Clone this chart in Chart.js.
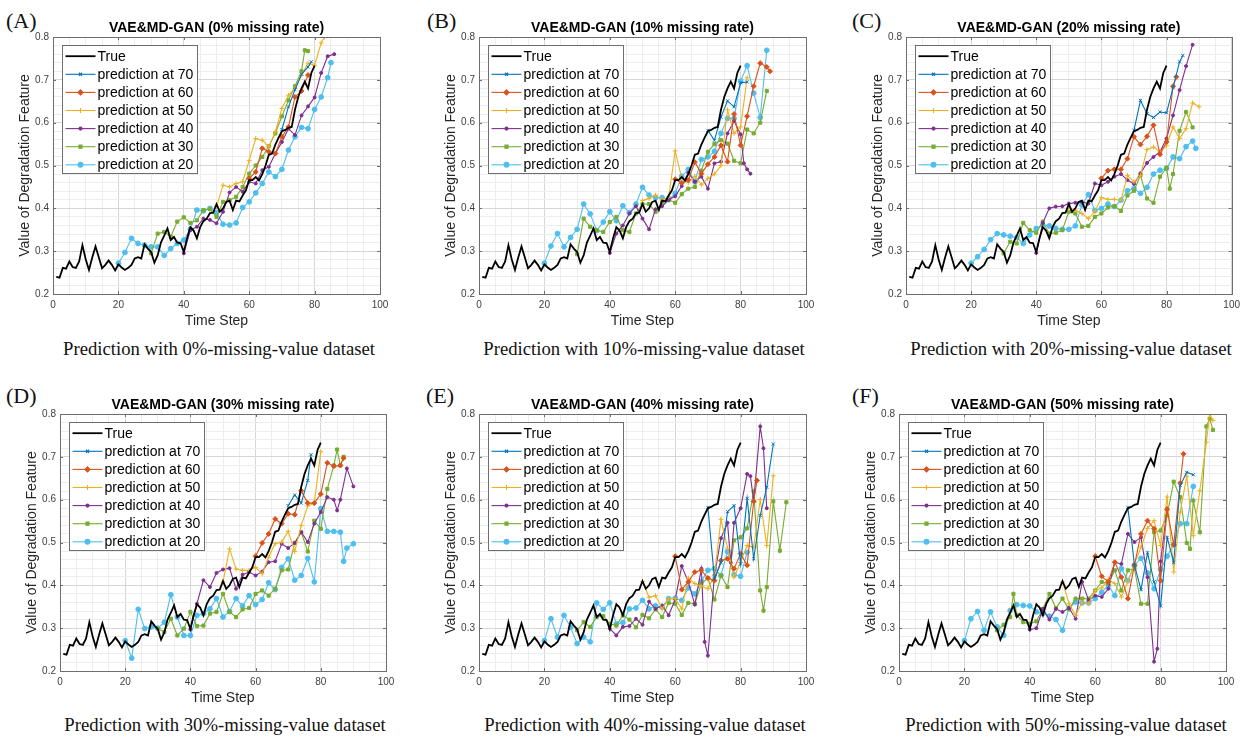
<!DOCTYPE html>
<html>
<head>
<meta charset="utf-8">
<script src="https://cdn.jsdelivr.net/npm/chart.js@4.4.1/dist/chart.umd.min.js"></script>
<style>
  body { margin: 0; background: #fff; width: 1245px; height: 738px; position: relative; overflow: hidden; }
  canvas { position: absolute; }
  .lbl { position: absolute; font-family: "Liberation Serif", "Times New Roman", serif; font-size: 22px; line-height: 22px; color: #111; }
  .cap { position: absolute; font-family: "Liberation Serif", "Times New Roman", serif; font-size: 18.7px; line-height: 18.7px; color: #111; white-space: nowrap; transform: translateX(-50%); }
</style>
</head>
<body>
<div class="lbl" style="left:6px;top:10px">(A)</div>
<div class="lbl" style="left:427px;top:10px">(B)</div>
<div class="lbl" style="left:852px;top:10px">(C)</div>
<div class="lbl" style="left:6px;top:385px">(D)</div>
<div class="lbl" style="left:426px;top:385px">(E)</div>
<div class="lbl" style="left:852px;top:385px">(F)</div>
<div class="cap" style="left:219px;top:340px">Prediction with 0%-missing-value dataset</div>
<div class="cap" style="left:644px;top:340px">Prediction with 10%-missing-value dataset</div>
<div class="cap" style="left:1071px;top:340px">Prediction with 20%-missing-value dataset</div>
<div class="cap" style="left:225px;top:716px">Prediction with 30%-missing-value dataset</div>
<div class="cap" style="left:645px;top:716px">Prediction with 40%-missing-value dataset</div>
<div class="cap" style="left:1066px;top:716px">Prediction with 50%-missing-value dataset</div>
<script>
// true degradation feature, time steps 1..80 (same in every panel)
const trueValues = [
  0.240, 0.238, 0.261, 0.259, 0.276, 0.263, 0.261, 0.276, 0.314, 0.281,
  0.256, 0.285, 0.311, 0.286, 0.260, 0.268, 0.278, 0.268, 0.255, 0.269,
  0.262, 0.256, 0.261, 0.268, 0.283, 0.286, 0.283, 0.316, 0.306, 0.298,
  0.273, 0.290, 0.320, 0.336, 0.353, 0.326, 0.333, 0.320, 0.319, 0.298,
  0.330, 0.356, 0.348, 0.330, 0.356, 0.370, 0.376, 0.389, 0.390, 0.410,
  0.392, 0.400, 0.415, 0.418, 0.396, 0.418, 0.416, 0.430, 0.442, 0.466,
  0.466, 0.473, 0.465, 0.480, 0.500, 0.525, 0.528, 0.549, 0.565, 0.580,
  0.583, 0.588, 0.590, 0.630, 0.660, 0.680, 0.696, 0.680, 0.716, 0.733
];

const predLabels = ["prediction at 70", "prediction at 60", "prediction at 50",
                    "prediction at 40", "prediction at 30", "prediction at 20"];
const missingRates = ["0%", "10%", "20%", "30%", "40%", "50%"];

// [time step, value] pairs
// (A) 0%
const A70 = [[70,0.584],[72,0.637],[74,0.677],[76,0.713],[78,0.73],[79,0.742]];
const A60 = [[60,0.47],[62,0.485],[64,0.54],[66,0.532],[68,0.528],[70,0.567],[72,0.59],[74,0.66],[76,0.674],[78,0.711]];
const A50 = [[50,0.404],[52,0.454],[54,0.45],[56,0.458],[58,0.462],[60,0.512],[62,0.563],[64,0.559],[66,0.544],[68,0.579],[70,0.633],[72,0.664],[74,0.68],[76,0.711],[78,0.739],[80,0.734],[82,0.786],[83,0.80]];
const A40 = [[40,0.295],[42,0.349],[44,0.357],[46,0.376],[48,0.373],[50,0.365],[52,0.392],[54,0.437],[56,0.45],[58,0.439],[60,0.462],[62,0.458],[64,0.489],[66,0.497],[68,0.528],[70,0.555],[72,0.586],[74,0.571],[76,0.617],[78,0.638],[80,0.659],[82,0.716],[84,0.755],[86,0.76]];
const A30 = [[30,0.295],[32,0.341],[34,0.345],[36,0.334],[38,0.369],[40,0.379],[42,0.366],[44,0.372],[46,0.396],[48,0.398],[50,0.38],[52,0.415],[54,0.419],[56,0.427],[58,0.45],[60,0.481],[62,0.50],[64,0.52],[66,0.545],[68,0.575],[70,0.615],[72,0.652],[74,0.685],[76,0.72],[77,0.769],[78,0.767]];
const A20 = [[20,0.272],[22,0.297],[24,0.33],[26,0.318],[28,0.314],[30,0.31],[32,0.31],[34,0.29],[36,0.306],[38,0.318],[40,0.326],[42,0.351],[44,0.396],[46,0.394],[48,0.40],[50,0.39],[52,0.363],[54,0.361],[56,0.366],[58,0.402],[60,0.415],[62,0.436],[64,0.458],[66,0.485],[68,0.474],[70,0.491],[72,0.536],[74,0.567],[76,0.589],[78,0.586],[80,0.631],[82,0.66],[84,0.705],[85,0.74]];
// (B) 10%
const B70 = [[70,0.582],[72,0.559],[74,0.613],[76,0.651],[78,0.637],[80,0.693],[82,0.695]];
const B60 = [[60,0.468],[62,0.459],[64,0.466],[66,0.508],[68,0.481],[70,0.503],[72,0.52],[74,0.547],[76,0.509],[78,0.62],[80,0.547],[82,0.615],[84,0.685],[86,0.739],[88,0.73],[89,0.72]];
const B50 = [[50,0.418],[52,0.423],[54,0.431],[56,0.419],[58,0.427],[60,0.534],[62,0.47],[64,0.46],[66,0.475],[68,0.455],[70,0.47],[72,0.48],[74,0.50],[76,0.63],[78,0.575],[80,0.59],[82,0.705]];
const B40 = [[40,0.296],[42,0.341],[44,0.36],[46,0.388],[48,0.405],[50,0.376],[52,0.351],[54,0.398],[56,0.405],[58,0.42],[60,0.428],[62,0.452],[64,0.483],[66,0.462],[68,0.474],[70,0.446],[72,0.505],[74,0.509],[76,0.575],[78,0.604],[80,0.573],[81,0.505],[82,0.491],[83,0.481]];
const B30 = [[30,0.293],[32,0.376],[34,0.357],[36,0.349],[38,0.345],[40,0.368],[42,0.38],[44,0.349],[46,0.345],[48,0.388],[50,0.41],[52,0.41],[54,0.392],[56,0.415],[58,0.42],[60,0.413],[62,0.433],[64,0.446],[66,0.45],[68,0.488],[70,0.532],[72,0.55],[74,0.559],[76,0.551],[78,0.511],[80,0.505],[82,0.584],[84,0.575],[86,0.60],[88,0.674]];
const B20 = [[20,0.272],[22,0.312],[24,0.341],[26,0.31],[28,0.332],[30,0.351],[32,0.41],[34,0.387],[36,0.348],[38,0.368],[40,0.392],[42,0.371],[44,0.406],[46,0.39],[48,0.41],[50,0.449],[52,0.431],[54,0.425],[56,0.425],[58,0.42],[60,0.435],[62,0.475],[64,0.491],[66,0.462],[68,0.514],[70,0.52],[72,0.533],[74,0.575],[76,0.61],[78,0.61],[80,0.697],[82,0.733],[84,0.669],[86,0.612],[88,0.769]];
// (C) 20%
const C70 = [[70,0.582],[72,0.652],[74,0.621],[76,0.612],[78,0.625],[80,0.623],[82,0.682],[84,0.742],[85,0.757]];
const C60 = [[60,0.47],[62,0.488],[64,0.491],[66,0.491],[68,0.516],[70,0.567],[72,0.549],[74,0.568],[76,0.594],[78,0.526],[80,0.555],[82,0.685],[83,0.707]];
const C50 = [[50,0.40],[52,0.396],[54,0.388],[56,0.376],[58,0.392],[60,0.425],[62,0.421],[64,0.421],[66,0.419],[68,0.477],[70,0.462],[72,0.477],[74,0.537],[76,0.543],[78,0.532],[80,0.546],[82,0.59],[84,0.563],[86,0.586],[88,0.646],[90,0.637]];
const C40 = [[40,0.296],[42,0.366],[44,0.40],[46,0.404],[48,0.405],[50,0.411],[52,0.413],[54,0.415],[56,0.411],[58,0.458],[60,0.454],[62,0.462],[64,0.474],[66,0.48],[68,0.466],[70,0.457],[72,0.482],[74,0.506],[76,0.52],[78,0.532],[80,0.563],[82,0.617],[84,0.676],[86,0.732],[88,0.782]];
const C30 = [[30,0.295],[32,0.322],[34,0.318],[36,0.366],[38,0.349],[40,0.343],[42,0.369],[44,0.341],[46,0.343],[48,0.349],[50,0.392],[52,0.388],[54,0.357],[56,0.359],[58,0.38],[60,0.388],[62,0.402],[64,0.405],[66,0.394],[68,0.43],[70,0.441],[72,0.477],[74,0.423],[76,0.413],[78,0.474],[80,0.495],[81,0.446],[82,0.48],[84,0.581],[86,0.625],[88,0.589]];
const C20 = [[20,0.272],[22,0.287],[24,0.304],[26,0.327],[28,0.341],[30,0.338],[32,0.335],[34,0.332],[36,0.318],[38,0.338],[40,0.353],[42,0.361],[44,0.359],[46,0.353],[48,0.351],[50,0.351],[52,0.359],[54,0.408],[56,0.432],[58,0.395],[60,0.40],[62,0.41],[64,0.404],[66,0.419],[68,0.441],[70,0.446],[72,0.435],[74,0.449],[76,0.48],[78,0.489],[80,0.493],[82,0.52],[84,0.516],[86,0.544],[88,0.557],[89,0.54]];
// (D) 30%
const D70 = [[70,0.586],[72,0.611],[74,0.592],[76,0.645],[77,0.705]];
const D60 = [[60,0.468],[62,0.499],[64,0.52],[66,0.555],[68,0.544],[70,0.567],[72,0.565],[74,0.621],[76,0.592],[78,0.592],[80,0.613],[82,0.686],[84,0.678],[86,0.68],[87,0.697]];
const D50 = [[50,0.408],[52,0.485],[54,0.438],[56,0.435],[58,0.435],[60,0.442],[62,0.427],[64,0.466],[66,0.497],[68,0.501],[70,0.526],[72,0.479],[74,0.54],[76,0.585],[78,0.592],[80,0.712]];
const D40 = [[40,0.297],[42,0.357],[44,0.412],[46,0.396],[48,0.429],[50,0.437],[52,0.44],[54,0.392],[56,0.425],[58,0.431],[60,0.423],[62,0.432],[64,0.454],[66,0.456],[68,0.497],[70,0.487],[72,0.499],[74,0.524],[76,0.501],[78,0.544],[80,0.571],[82,0.606],[84,0.60],[85,0.575],[86,0.60],[88,0.673],[90,0.631]];
const D30 = [[30,0.299],[32,0.291],[34,0.322],[36,0.283],[38,0.299],[40,0.338],[42,0.305],[44,0.306],[46,0.334],[48,0.338],[50,0.38],[52,0.338],[54,0.326],[56,0.344],[58,0.347],[60,0.38],[62,0.388],[64,0.376],[66,0.392],[68,0.435],[70,0.437],[72,0.499],[74,0.524],[76,0.479],[78,0.551],[80,0.532],[82,0.625],[84,0.68],[85,0.717],[86,0.68],[87,0.70]];
const D20 = [[20,0.271],[22,0.23],[24,0.344],[26,0.299],[28,0.303],[30,0.30],[32,0.314],[34,0.378],[36,0.326],[38,0.283],[40,0.283],[42,0.33],[44,0.334],[46,0.345],[48,0.369],[50,0.326],[52,0.339],[54,0.369],[56,0.352],[58,0.376],[60,0.355],[62,0.367],[64,0.406],[66,0.39],[68,0.442],[70,0.462],[72,0.412],[74,0.423],[76,0.463],[78,0.408],[80,0.579],[82,0.526],[84,0.526],[86,0.524],[87,0.456],[88,0.487],[90,0.497]];
// (E) 40%
const E70 = [[70,0.582],[72,0.415],[74,0.453],[76,0.572],[78,0.586],[80,0.45],[82,0.603],[84,0.462],[86,0.563],[88,0.629],[90,0.73]];
const E60 = [[60,0.468],[62,0.39],[64,0.408],[66,0.431],[68,0.435],[70,0.417],[72,0.411],[74,0.458],[76,0.462],[78,0.439],[80,0.474],[82,0.447],[84,0.596],[85,0.645]];
const E50 = [[50,0.409],[52,0.372],[54,0.376],[56,0.345],[58,0.369],[60,0.369],[62,0.345],[64,0.417],[66,0.404],[68,0.398],[70,0.392],[72,0.423],[74,0.554],[76,0.487],[78,0.419],[80,0.454],[82,0.493],[84,0.489],[86,0.60],[88,0.493],[90,0.656]];
const E40 = [[40,0.299],[42,0.283],[44,0.303],[46,0.305],[48,0.322],[50,0.308],[52,0.362],[54,0.345],[56,0.353],[58,0.33],[60,0.367],[62,0.445],[64,0.408],[66,0.355],[68,0.439],[69,0.268],[70,0.236],[72,0.423],[74,0.51],[76,0.546],[77,0.453],[78,0.546],[80,0.58],[82,0.66],[83,0.655],[84,0.596],[86,0.771],[87,0.72],[88,0.58]];
const E30 = [[30,0.295],[32,0.314],[34,0.303],[36,0.326],[38,0.328],[40,0.31],[42,0.306],[44,0.33],[46,0.32],[48,0.302],[50,0.331],[52,0.323],[54,0.344],[56,0.326],[58,0.359],[60,0.357],[62,0.331],[64,0.359],[66,0.357],[68,0.404],[70,0.417],[72,0.367],[74,0.423],[76,0.396],[78,0.505],[80,0.512],[82,0.533],[84,0.619],[86,0.388],[87,0.341],[88,0.396],[90,0.596],[92,0.481],[94,0.594]];
const E20 = [[20,0.271],[22,0.322],[24,0.279],[26,0.33],[28,0.302],[30,0.264],[32,0.279],[34,0.268],[36,0.359],[38,0.344],[40,0.359],[42,0.31],[44,0.313],[46,0.345],[48,0.347],[50,0.365],[52,0.345],[54,0.352],[56,0.349],[58,0.369],[60,0.37],[62,0.365],[64,0.394],[66,0.38],[68,0.409],[70,0.435],[72,0.439],[74,0.423],[76,0.479],[78,0.425],[80,0.421],[82,0.477]];
// (F) 50%
const F70 = [[70,0.582],[72,0.447],[74,0.39],[76,0.476],[78,0.408],[80,0.352],[82,0.512],[84,0.454],[86,0.633],[88,0.664],[90,0.658]];
const F60 = [[60,0.468],[62,0.421],[64,0.408],[66,0.454],[68,0.419],[70,0.369],[72,0.447],[74,0.52],[76,0.551],[78,0.532],[80,0.411],[82,0.577],[84,0.495],[86,0.639],[87,0.707]];
const F50 = [[50,0.408],[52,0.357],[54,0.33],[56,0.361],[58,0.357],[60,0.388],[62,0.394],[64,0.414],[66,0.404],[68,0.373],[70,0.408],[72,0.45],[74,0.489],[76,0.533],[78,0.551],[80,0.493],[82,0.606],[84,0.431],[86,0.571],[88,0.655],[90,0.516],[92,0.621],[94,0.734],[95,0.80],[96,0.785]];
const F40 = [[40,0.297],[42,0.30],[44,0.345],[46,0.32],[48,0.345],[50,0.338],[52,0.347],[54,0.322],[56,0.408],[58,0.365],[60,0.376],[62,0.373],[64,0.392],[66,0.454],[68,0.45],[70,0.52],[72,0.501],[74,0.512],[76,0.419],[78,0.222],[79,0.252],[80,0.456],[82,0.58]];
const F30 = [[30,0.295],[32,0.308],[34,0.326],[35,0.38],[36,0.331],[38,0.314],[40,0.31],[42,0.316],[44,0.345],[46,0.38],[48,0.347],[50,0.369],[52,0.344],[54,0.369],[56,0.369],[58,0.369],[60,0.388],[62,0.408],[64,0.404],[66,0.435],[68,0.388],[70,0.435],[72,0.439],[74,0.357],[76,0.357],[78,0.524],[80,0.528],[82,0.563],[84,0.642],[86,0.606],[88,0.499],[89,0.485],[90,0.598],[92,0.524],[94,0.771],[95,0.789],[96,0.763]];
const F20 = [[20,0.271],[22,0.322],[24,0.339],[26,0.295],[28,0.338],[30,0.303],[32,0.283],[34,0.341],[36,0.355],[38,0.353],[40,0.352],[42,0.338],[44,0.334],[46,0.328],[48,0.32],[50,0.295],[52,0.347],[54,0.361],[56,0.359],[58,0.359],[60,0.369],[62,0.384],[64,0.40],[66,0.376],[68,0.439],[70,0.411],[72,0.447],[74,0.463],[76,0.429],[78,0.392],[80,0.437],[82,0.468],[84,0.495],[86,0.544],[88,0.544],[90,0.631]];

const FONT = '"Liberation Sans", Arial, Helvetica, sans-serif';
Chart.defaults.font.family = FONT;

// MATLAB default line colours and markers
const styles = [
  { color: "#0072BD", point: "crossRot", r: 2.2 },
  { color: "#D95319", point: "rectRot", r: 2.5 },
  { color: "#EDB120", point: "cross", r: 2.4 },
  { color: "#7E2F8E", point: "circle", r: 1.5 },
  { color: "#77AC30", point: "rect", r: 2.2 },
  { color: "#4DBEEE", point: "circle", r: 2.4 }
];

// canvas position + plot-area box inside the canvas
const panels = [
  { cl: 0,   ct: 0,   L: 53, R: 380, T: 37, B: 294, series: [A70, A60, A50, A40, A30, A20] },
  { cl: 415, ct: 0,   L: 64, R: 391, T: 37, B: 294, series: [B70, B60, B50, B40, B30, B20] },
  { cl: 830, ct: 0,   L: 76, R: 402, T: 37, B: 294, series: [C70, C60, C50, C40, C30, C20] },
  { cl: 0,   ct: 369, L: 60, R: 386, T: 45, B: 302, series: [D70, D60, D50, D40, D30, D20] },
  { cl: 415, ct: 369, L: 64, R: 391, T: 45, B: 302, series: [E70, E60, E50, E40, E30, E20] },
  { cl: 830, ct: 369, L: 69, R: 396, T: 45, B: 302, series: [F70, F60, F50, F40, F30, F20] }
];

const CW = 415, CH = 369;
const isMajorY = v => Math.round(v * 100) % 10 === 0;

// box round the axes + inward tick marks
const boxPlugin = {
  id: "box",
  afterDatasetsDraw(chart) {
    const { ctx, chartArea: a, scales: { x, y } } = chart;
    ctx.save();
    ctx.strokeStyle = "#6e6e6e";
    ctx.lineWidth = 1;
    ctx.strokeRect(Math.round(a.left) + 0.5, Math.round(a.top) + 0.5,
                   Math.round(a.right - a.left), Math.round(a.bottom - a.top));
    ctx.beginPath();
    for (let v = 0; v <= 100; v += 20) {
      const px = Math.round(x.getPixelForValue(v)) + 0.5;
      ctx.moveTo(px, a.bottom); ctx.lineTo(px, a.bottom - 3);
      ctx.moveTo(px, a.top); ctx.lineTo(px, a.top + 3);
    }
    for (let k = 2; k <= 8; k++) {
      const py = Math.round(y.getPixelForValue(k / 10)) + 0.5;
      ctx.moveTo(a.left, py); ctx.lineTo(a.left + 3, py);
      ctx.moveTo(a.right, py); ctx.lineTo(a.right - 3, py);
    }
    ctx.stroke();
    ctx.restore();
  }
};

// MATLAB-style legend in the upper left corner of the axes
const legendPlugin = {
  id: "insideLegend",
  afterDraw(chart) {
    const { ctx, chartArea: a } = chart;
    const x0 = Math.round(a.left + 9) + 0.5, y0 = Math.round(a.top + 8) + 0.5;
    const w = 135, rowH = 18.1, h = 128;
    ctx.save();
    ctx.fillStyle = "#fff";
    ctx.fillRect(x0, y0, w, h);
    ctx.strokeStyle = "#6e6e6e";
    ctx.lineWidth = 1;
    ctx.strokeRect(x0, y0, w, h);
    ctx.font = "14px " + FONT;
    ctx.textBaseline = "middle";
    chart.data.datasets.forEach((ds, i) => {
      const cy = y0 + 10.7 + i * rowH;
      ctx.strokeStyle = ds.borderColor;
      ctx.lineWidth = ds.borderWidth;
      ctx.beginPath();
      ctx.moveTo(x0 + 3, cy); ctx.lineTo(x0 + 33, cy);
      ctx.stroke();
      if (ds.pointRadius > 0 && Chart.helpers && Chart.helpers.drawPoint) {
        ctx.fillStyle = ds.borderColor;
        ctx.lineWidth = 1.1;
        Chart.helpers.drawPoint(ctx, { pointStyle: ds.pointStyle, radius: ds.pointRadius, rotation: 0, borderWidth: 1.1 }, x0 + 18, cy);
      }
      ctx.fillStyle = "#000";
      ctx.fillText(ds.label, x0 + 35, cy + 0.5);
    });
    ctx.restore();
  }
};

panels.forEach((p, n) => {
  const canvas = document.createElement("canvas");
  canvas.width = CW;
  canvas.height = CH;
  canvas.style.left = p.cl + "px";
  canvas.style.top = p.ct + "px";
  document.body.appendChild(canvas);

  const datasets = [{
    label: "True",
    data: trueValues.map((v, i) => ({ x: i + 1, y: v })),
    borderColor: "#000", backgroundColor: "#000",
    borderWidth: 1.8, pointRadius: 0
  }];
  styles.forEach((s, i) => {
    datasets.push({
      label: predLabels[i],
      data: p.series[i].map(([t, v]) => ({ x: t, y: v })),
      borderColor: s.color, backgroundColor: s.color,
      pointBorderColor: s.color, pointBackgroundColor: s.color,
      borderWidth: 1.1, pointStyle: s.point, pointRadius: s.r, pointBorderWidth: 1
    });
  });

  const titleLH = 14 * 1.2;
  new Chart(canvas, {
    type: "line",
    data: { datasets },
    options: {
      responsive: false,
      animation: false,
      events: [],
      layout: { padding: { top: p.T - titleLH, right: CW - p.R, left: 0, bottom: 0 } },
      plugins: {
        legend: { display: false },
        tooltip: { enabled: false },
        title: {
          display: true, fullSize: false,
          text: "VAE&MD-GAN (" + missingRates[n] + " missing rate)",
          color: "#000", font: { size: 14, weight: "bold" },
          padding: { top: 0, bottom: 0 }
        }
      },
      elements: { line: { tension: 0 } },
      scales: {
        x: {
          type: "linear", min: 0, max: 100,
          afterFit: s => { s.height = CH - p.B; },
          border: { display: false },
          grid: {
            drawTicks: false,
            color: c => (c.tick && c.tick.value % 20 === 0) ? "#d6d6d6" : "#ededed"
          },
          ticks: {
            stepSize: 5, autoSkip: false, maxRotation: 0, padding: 5,
            color: "#404040", font: { size: 10 },
            callback: v => (v % 20 === 0 ? String(v) : "")
          },
          title: {
            display: true, text: "Time Step", color: "#262626", font: { size: 14 },
            padding: { top: 0, bottom: CH - p.B - 27 - titleLH / 2 }
          }
        },
        y: {
          min: 0.2, max: 0.8,
          afterFit: s => { s.width = p.L; },
          border: { display: false },
          grid: {
            drawTicks: false,
            color: c => (c.tick && isMajorY(c.tick.value)) ? "#d6d6d6" : "#ededed"
          },
          ticks: {
            stepSize: 0.02, autoSkip: false, padding: 4,
            color: "#404040", font: { size: 10 },
            callback: v => (isMajorY(v) ? (Math.round(v * 10) / 10).toFixed(1) : "")
          },
          title: {
            display: true, text: "Value of Degradation Feature", color: "#262626", font: { size: 14 },
            padding: { top: p.L - 28 - titleLH / 2, bottom: 0 }
          }
        }
      }
    },
    plugins: [boxPlugin, legendPlugin]
  });
});
</script>
</body>
</html>
